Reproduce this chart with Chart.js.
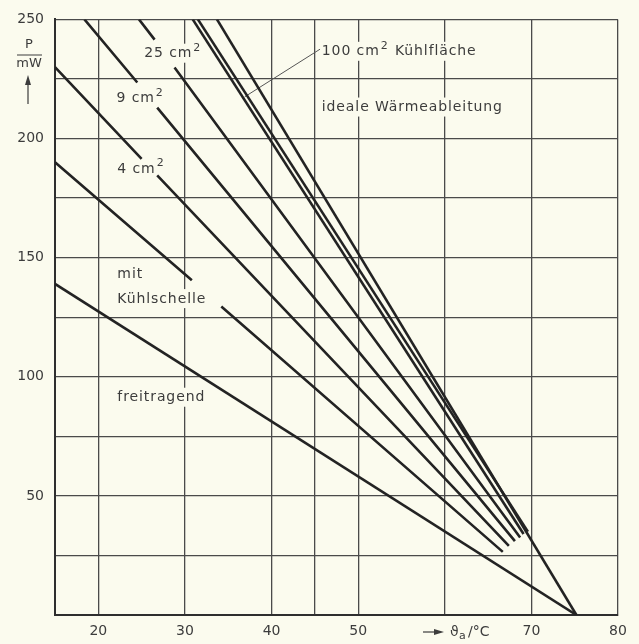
<!DOCTYPE html>
<html>
<head>
<meta charset="utf-8">
<script src="https://cdn.jsdelivr.net/npm/chart.js@4"></script>
<style>
  html, body { margin: 0; padding: 0; background: #fbfbee; }
  #wrap { width: 639px; height: 644px; position: relative; }
</style>
</head>
<body>
<div id="wrap"><canvas id="chart"></canvas></div>
<script>
// grid / tick values
const xGrid = [15, 20, 30, 40, 45, 50, 60, 70, 80];
const xTickLabels = [20, 30, 40, 50, 70, 80];
const yGrid = [0, 25, 50, 75, 100, 125, 150, 175, 200, 225, 250];
const yTickLabels = [50, 100, 150, 200, 250];

// curves (null = gap for a label)
const freitragendX = [15, 75.2];
const freitragendY = [139, 0];
const kuehlschelleX = [15, 30.8, 32.5, 34.2, 66.7];
const kuehlschelleY = [190, 140.5, null, 129.5, 26.5];
const cm4X = [15, 25, 26, 26.8, 67.4];
const cm4Y = [230, 191.5, null, 184.5, 29];
const cm9X = [18.4, 24.5, 25.5, 26.8, 68.1];
const cm9Y = [250, 223.5, null, 213, 31];
const cm25X = [24.7, 26.5, 27.5, 28.8, 68.7];
const cm25Y = [250, 241.5, null, 229.8, 32.5];
const cm100aX = [30.9, 69.1];
const cm100aY = [250, 34];
const cm100bX = [31.5, 69.6];
const cm100bY = [250, 35];
const idealX = [33.7, 75.2];
const idealY = [250, 0];
const pointerX = [36.9, 45.6];
const pointerY = [217.5, 237.5];

const curves = [
  [freitragendX, freitragendY],
  [kuehlschelleX, kuehlschelleY],
  [cm4X, cm4Y],
  [cm9X, cm9Y],
  [cm25X, cm25Y],
  [cm100aX, cm100aY],
  [cm100bX, cm100bY],
  [idealX, idealY]
];

const toPoints = (xs, ys) => xs.map((x, i) => ({ x: x, y: ys[i] }));

// labels in data coordinates (left edge, vertical centre)
const curveLabels = [
  { text: '25 cm²', x: 25.3, y: 235.6 },
  { text: '9 cm²', x: 22.1, y: 216.7 },
  { text: '4 cm²', x: 22.2, y: 187 },
  { text: 'mit', x: 22.2, y: 143 },
  { text: 'Kühlschelle', x: 22.2, y: 132.6 },
  { text: 'freitragend', x: 22.2, y: 91.2 },
  { text: '100 cm² Kühlfläche', x: 45.8, y: 236.4 },
  { text: 'ideale Wärmeableitung', x: 45.8, y: 213 }
];

const INK = '#232323';
const TEXT = '#3c3c3c';
const PAPER = '#fbfbee';
const FONT = '14px "DejaVu Sans"';
const SUP_FONT = '11px "DejaVu Sans"';

const datasets = curves.map(c => ({
  data: toPoints(c[0], c[1]),
  borderColor: INK,
  borderWidth: 2.6,
  pointRadius: 0,
  fill: false,
  tension: 0,
  spanGaps: false
}));
datasets.push({
  data: toPoints(pointerX, pointerY),
  borderColor: '#555',
  borderWidth: 1,
  pointRadius: 0,
  fill: false
});

// draws text, rendering "²" as a raised 2; returns width
function drawLabel(ctx, text, x, y, measureOnly) {
  const parts = text.split('²');
  let cx = x;
  parts.forEach((p, i) => {
    ctx.font = FONT;
    if (!measureOnly) ctx.fillText(p, cx, y);
    cx += ctx.measureText(p).width;
    if (i < parts.length - 1) {
      ctx.font = SUP_FONT;
      if (!measureOnly) ctx.fillText('2', cx + 1, y - 6);
      cx += ctx.measureText('2').width + 2;
    }
  });
  return cx - x;
}

const labelPlugin = {
  id: 'labels',
  beforeDatasetsDraw(chart) {
    const ctx = chart.ctx;
    const xs = chart.scales.x, ys = chart.scales.y;
    ctx.save();
    ctx.fillStyle = PAPER;
    ctx.letterSpacing = '0.9px';
    curveLabels.forEach(l => {
      const px = xs.getPixelForValue(l.x), py = ys.getPixelForValue(l.y);
      const w = drawLabel(ctx, l.text, px, py, true);
      ctx.fillRect(px - 3, py - 10, w + 6, 19);
    });
    ctx.restore();
  },
  afterDatasetsDraw(chart) {
    const ctx = chart.ctx;
    const xs = chart.scales.x, ys = chart.scales.y;
    ctx.save();
    ctx.fillStyle = TEXT;
    ctx.letterSpacing = '0.9px';
    ctx.textBaseline = 'middle';
    ctx.textAlign = 'left';
    curveLabels.forEach(l => {
      drawLabel(ctx, l.text, xs.getPixelForValue(l.x), ys.getPixelForValue(l.y), false);
    });

    // y axis title: P / mW with arrow
    ctx.letterSpacing = '0px';
    ctx.textAlign = 'center';
    ctx.font = '13px "DejaVu Sans"';
    ctx.fillText('P', 29, 45);
    ctx.fillText('mW', 29, 64);
    ctx.strokeStyle = TEXT;
    ctx.lineWidth = 1.2;
    ctx.beginPath();
    ctx.moveTo(17, 55); ctx.lineTo(42, 55);
    ctx.moveTo(28, 104); ctx.lineTo(28, 80);
    ctx.stroke();
    ctx.beginPath();
    ctx.moveTo(28, 75); ctx.lineTo(25, 85); ctx.lineTo(31, 85); ctx.closePath();
    ctx.fill();

    // x axis title: -> theta_a / °C
    const by = 632;
    ctx.beginPath();
    ctx.moveTo(423, by); ctx.lineTo(436, by);
    ctx.stroke();
    ctx.beginPath();
    ctx.moveTo(444, by); ctx.lineTo(434, by - 3); ctx.lineTo(434, by + 3); ctx.closePath();
    ctx.fill();
    ctx.textAlign = 'left';
    ctx.font = '14px "DejaVu Sans"';
    ctx.fillText('ϑ', 450, by);
    ctx.font = '11px "DejaVu Sans"';
    ctx.fillText('a', 459, by + 4);
    ctx.font = '14px "DejaVu Sans"';
    ctx.fillText('/°C', 468, by);
    ctx.restore();
  }
};

new Chart(document.getElementById('chart'), {
  type: 'line',
  data: { datasets: datasets },
  options: {
    responsive: true,
    maintainAspectRatio: false,
    animation: false,
    layout: { padding: { top: 17, right: 21, left: 0, bottom: 0 } },
    plugins: {
      legend: { display: false },
      tooltip: { enabled: false }
    },
    scales: {
      x: {
        type: 'linear',
        min: 15,
        max: 80,
        afterBuildTicks: scale => { scale.ticks = xGrid.map(v => ({ value: v })); },
        afterFit: scale => { scale.height = 29; },
        ticks: {
          autoSkip: false,
          maxRotation: 0,
          padding: 8,
          color: TEXT,
          font: { family: 'DejaVu Sans', size: 14 },
          callback: v => xTickLabels.includes(v) ? String(v) : ''
        },
        grid: { color: '#4a4a4a', lineWidth: 1.3, drawTicks: false },
        border: { color: '#2e2e2e', width: 2 }
      },
      y: {
        type: 'linear',
        min: 0,
        max: 250,
        afterBuildTicks: scale => { scale.ticks = yGrid.map(v => ({ value: v })); },
        afterFit: scale => { scale.width = 55; },
        ticks: {
          autoSkip: false,
          padding: 11,
          color: TEXT,
          font: { family: 'DejaVu Sans', size: 14 },
          callback: v => yTickLabels.includes(v) ? String(v) : ''
        },
        grid: { color: '#4a4a4a', lineWidth: 1.3, drawTicks: false },
        border: { color: '#2e2e2e', width: 2 }
      }
    }
  },
  plugins: [labelPlugin]
});
</script>
</body>
</html>
